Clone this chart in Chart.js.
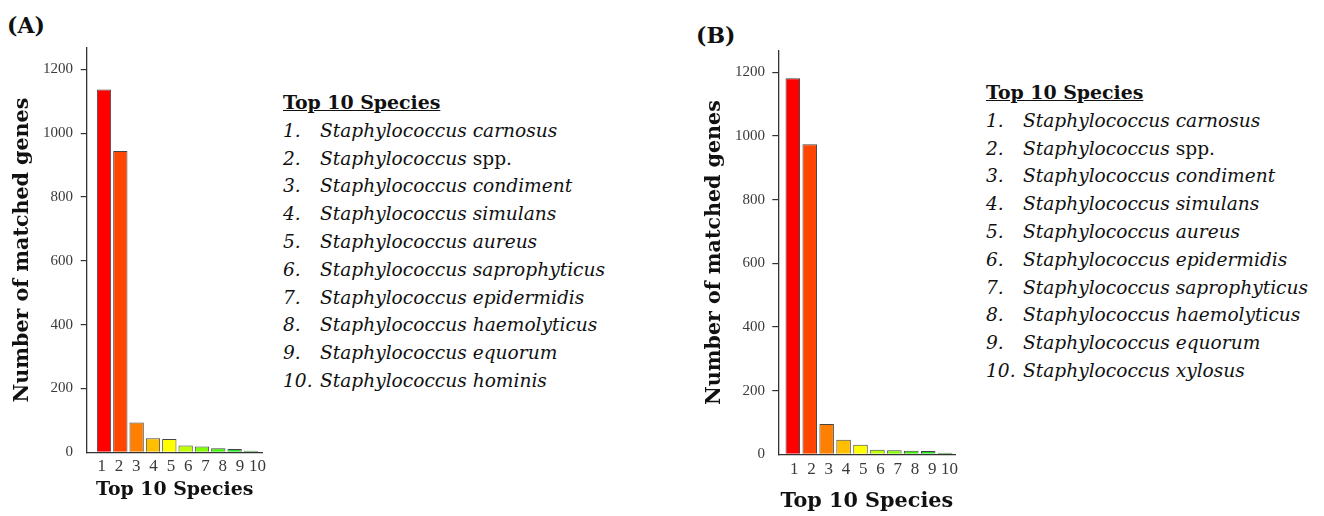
<!DOCTYPE html>
<html>
<head>
<meta charset="utf-8">
<script src="https://cdn.jsdelivr.net/npm/chart.js@4.4.1/dist/chart.umd.min.js"></script>
<style>
  html, body { margin: 0; padding: 0; background: #fff; }
  #page { position: relative; width: 1324px; height: 516px; overflow: hidden; }
  canvas { position: absolute; top: 0; }
  .tag { position: absolute; font: bold 22px "DejaVu Serif"; color: #111; line-height: 22px; }
  .list { position: absolute; font-family: "DejaVu Serif"; color: #111; }
  .list .head { font-weight: bold; font-size: 18.9px; text-decoration: underline; line-height: 27.8px; }
  .list .row { font-style: italic; font-size: 18.6px; line-height: 27.8px; white-space: nowrap; }
  .list .num { display: inline-block; width: 37px; }
  .list .plain { font-style: normal; }
</style>
</head>
<body>
<div id="page">
  <div class="tag" style="left:7px; top:14px;">(A)</div>
  <div class="tag" style="left:696px; top:24px;">(B)</div>
  <canvas id="chartA" width="280" height="516" style="left:0px;"></canvas>
  <canvas id="chartB" width="300" height="516" style="left:680px;"></canvas>
  <div class="list" id="listA" style="left:283px; top:89px;"></div>
  <div class="list" id="listB" style="left:986px; top:79px;"></div>
</div>
<script>
// Species rank (x categories) and y-axis tick values
const ranks = [1, 2, 3, 4, 5, 6, 7, 8, 9, 10];
const yTicks = [0, 200, 400, 600, 800, 1000, 1200];

// Number of matched genes per ranked species
const genesA = [1137, 944, 93, 44, 42, 21, 18, 13, 10, 5];
const genesB = [1181, 974, 95, 46, 30, 14, 13, 11, 10, 5];

// Species names for each panel's list
const genus = 'Staphylococcus';
const speciesA = ['carnosus', 'spp.', 'condiment', 'simulans', 'aureus',
  'saprophyticus', 'epidermidis', 'haemolyticus', 'equorum', 'hominis'];
const speciesB = ['carnosus', 'spp.', 'condiment', 'simulans', 'aureus',
  'epidermidis', 'saprophyticus', 'haemolyticus', 'equorum', 'xylosus'];

// Red-to-green ramp, one colour per rank
const barColors = ['#ff0000', '#ff4500', '#ff8000', '#ffbf00', '#ffff00',
  '#bfff00', '#80ff00', '#40f000', '#22dd22', '#10a010'];

const listTitle = 'Top 10 Species';
const yTitle = 'Number of matched genes';
const xTitle = 'Top 10 Species';

function buildList(el, species) {
  const head = document.createElement('div');
  head.className = 'head';
  head.textContent = listTitle;
  el.appendChild(head);
  species.forEach((sp, i) => {
    const row = document.createElement('div');
    row.className = 'row';
    const num = document.createElement('span');
    num.className = 'num';
    num.textContent = (i + 1) + '.';
    row.appendChild(num);
    row.appendChild(document.createTextNode(genus + ' '));
    const epi = document.createElement('span');
    if (sp === 'spp.') epi.className = 'plain';
    epi.textContent = sp;
    row.appendChild(epi);
    el.appendChild(row);
  });
}
buildList(document.getElementById('listA'), speciesA);
buildList(document.getElementById('listB'), speciesB);

const axisColor = '#333';
const tickColor = '#3a3a3a';

// One bar panel: a bar axis (baseline only), a separate axis carrying the rank labels, and the count axis
function makePanel(id, values, g) {
  return new Chart(document.getElementById(id), {
    type: 'bar',
    data: {
      labels: ranks,
      datasets: [{
        data: values,
        backgroundColor: barColors,
        borderColor: '#444',
        borderWidth: 1,
        categoryPercentage: 1,
        barPercentage: g.barPct
      }]
    },
    options: {
      responsive: false,
      animation: false,
      layout: { padding: g.pad },
      plugins: { legend: { display: false }, tooltip: { enabled: false } },
      scales: {
        x: {
          type: 'linear',
          position: 'bottom',
          offset: false,
          weight: 0,
          min: g.xMin,
          max: g.xMax,
          ticks: { display: false },
          grid: { display: true, drawOnChartArea: false, drawTicks: false },
          border: { display: true, color: axisColor, width: 1.3 },
          afterFit: s => { s.height = 0; }
        },
        xl: {
          type: 'linear',
          position: 'bottom',
          offset: false,
          weight: 1,
          min: g.lMin,
          max: g.lMax,
          afterBuildTicks: s => { s.ticks = ranks.map(v => ({ value: v })); },
          ticks: {
            padding: g.lPad,
            autoSkip: false,
            maxRotation: 0,
            minRotation: 0,
            color: tickColor,
            font: { family: 'Liberation Serif', size: 17 }
          },
          grid: { display: false, drawTicks: false },
          border: { display: false },
          title: {
            display: true,
            text: xTitle,
            color: '#111',
            padding: { top: 0, bottom: 0 },
            font: { family: 'DejaVu Serif', size: g.xtSize, weight: 'bold' }
          },
          afterFit: s => { s.height = g.lHeight; }
        },
        y: {
          type: 'linear',
          position: 'left',
          min: 0,
          max: 1267,
          afterBuildTicks: s => { s.ticks = yTicks.map(v => ({ value: v })); },
          ticks: {
            padding: g.yPad,
            color: tickColor,
            font: { family: 'Liberation Serif', size: 15 },
            callback: v => String(v)
          },
          grid: {
            drawOnChartArea: false,
            drawTicks: true,
            tickLength: 6,
            lineWidth: 1.2,
            color: c => (c.tick && c.tick.value === 0) ? 'rgba(0,0,0,0)' : axisColor
          },
          border: { display: true, color: axisColor, width: 1.3 },
          title: {
            display: true,
            text: yTitle,
            color: '#111',
            padding: { top: g.ytPad, bottom: 0 },
            font: { family: 'DejaVu Serif', size: 20.6, weight: 'bold' }
          },
          afterFit: s => { s.width = g.yWidth; }
        }
      }
    }
  });
}

makePanel('chartA', genesA, {
  pad: { left: 0, top: 48, right: 17.3, bottom: 14.7 },
  barPct: 0.876, xMin: -0.059, xMax: 10.719,
  lMin: 0.133, lMax: 10.306, lPad: 4.3, lHeight: 49, xtSize: 18.9,
  yPad: 7.7, yWidth: 86.7, ytPad: 10.6
});

makePanel('chartB', genesB, {
  pad: { left: 0, top: 51, right: 24.7, bottom: 1.5 },
  barPct: 0.857, xMin: 0.144, xMax: 10.599,
  lMin: 0.072, lMax: 10.333, lPad: 4.6, lHeight: 60.2, xtSize: 20.75,
  yPad: 7.3, yWidth: 98.3, ytPad: 22.6
});
</script>
</body>
</html>
